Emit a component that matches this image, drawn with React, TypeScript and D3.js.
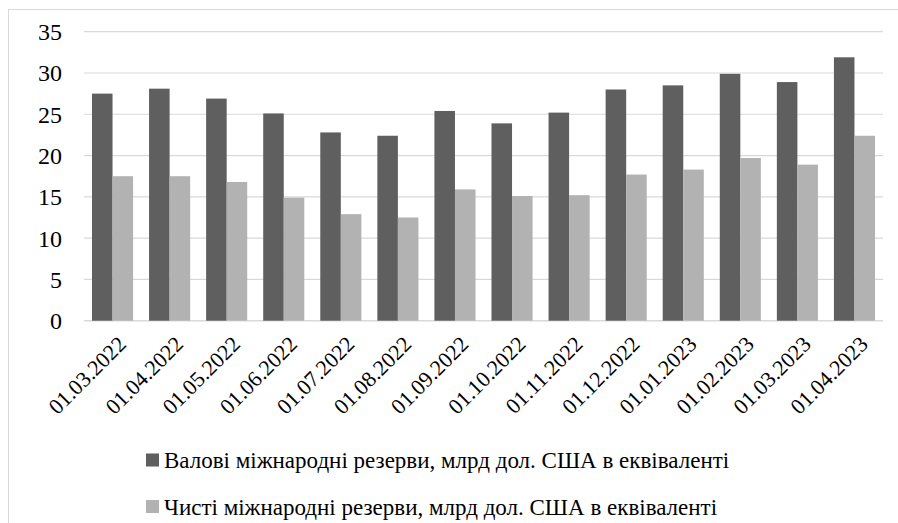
import React, { useEffect, useRef } from "react";
import * as d3 from "d3";

const categories = [
  "01.03.2022", "01.04.2022", "01.05.2022", "01.06.2022", "01.07.2022",
  "01.08.2022", "01.09.2022", "01.10.2022", "01.11.2022", "01.12.2022",
  "01.01.2023", "01.02.2023", "01.03.2023", "01.04.2023",
];
const grossReserves = [27.5, 28.1, 26.9, 25.1, 22.8, 22.4, 25.4, 23.9, 25.2, 28.0, 28.5, 29.9, 28.9, 31.9];
const netReserves = [17.5, 17.5, 16.8, 14.9, 12.9, 12.5, 15.9, 15.1, 15.2, 17.7, 18.3, 19.7, 18.9, 22.4];
const yTicks = [0, 5, 10, 15, 20, 25, 30, 35];
const seriesNames = [
  "Валові міжнародні резерви, млрд дол. США в еквіваленті",
  "Чисті міжнародні резерви, млрд дол. США в еквіваленті",
];
const seriesColors = ["#5f5f5f", "#b2b2b2"];

const W = 898;
const H = 523;
const plot = { left: 84, right: 883, top: 31.7, bottom: 320.7 };
const FONT = "Liberation Serif";

export default function App() {
  const ref = useRef<SVGSVGElement>(null);

  useEffect(() => {
    document.body.style.margin = "0";
    const svg = d3.select(ref.current);
    svg.selectAll("*").remove();

    svg.append("style").text(
      `text { font-family: "Liberation Serif", "Times New Roman", serif !important; }`
    );

    const x = d3.scaleBand<string>().domain(categories).range([plot.left, plot.right]).paddingInner(0.28).paddingOuter(0.14);
    const inner = d3.scaleBand<number>().domain([0, 1]).range([0, x.bandwidth()]);
    const y = d3.scaleLinear().domain([0, 35]).range([plot.bottom, plot.top]);
    const series = [grossReserves, netReserves];

    svg.append("rect").attr("x", 8.5).attr("y", 9.5).attr("width", 1000).attr("height", 1000)
      .attr("fill", "#fff").attr("stroke", "#d9d9d9");

    const grid = svg.append("g");
    yTicks.forEach((t) => {
      grid.append("line").attr("x1", plot.left).attr("x2", plot.right).attr("y1", y(t)).attr("y2", y(t))
        .attr("stroke", "#d9d9d9").attr("stroke-width", t === 0 ? 1.5 : 1.2);
      grid.append("text").attr("x", 62).attr("y", y(t)).attr("dy", "0.35em").attr("text-anchor", "end")
        .attr("font-family", FONT).attr("font-size", 24).attr("fill", "#000").text(String(t));
    });

    series.forEach((vals, si) => {
      svg.append("g").selectAll("rect").data(vals).join("rect")
        .attr("x", (_d, i) => (x(categories[i]) as number) + (inner(si) as number))
        .attr("y", (d) => y(d))
        .attr("width", inner.bandwidth())
        .attr("height", (d) => y(0) - y(d))
        .attr("fill", seriesColors[si]);
    });

    svg.append("g").selectAll("text").data(categories).join("text")
      .attr("transform", (c) => `translate(${(x(c) as number) + x.bandwidth() / 2 + 4},${plot.bottom + 14}) rotate(-45)`)
      .attr("text-anchor", "end").attr("dy", "0.7em")
      .attr("font-family", FONT).attr("font-size", 22).attr("fill", "#000")
      .text((c) => c);

    seriesNames.forEach((name, i) => {
      const ly = 460 + i * 46.5;
      svg.append("rect").attr("x", 146).attr("y", ly - 6.5).attr("width", 13).attr("height", 13).attr("fill", seriesColors[i]);
      svg.append("text").attr("x", 164).attr("y", ly).attr("dy", "0.35em")
        .attr("font-family", FONT).attr("font-size", 23).attr("fill", "#000").text(name);
    });
  }, []);

  return (
    <svg
      ref={ref}
      width={W}
      height={H}
      style={{ display: "block", position: "absolute", left: 0, top: 0, background: "#fff" }}
    />
  );
}
